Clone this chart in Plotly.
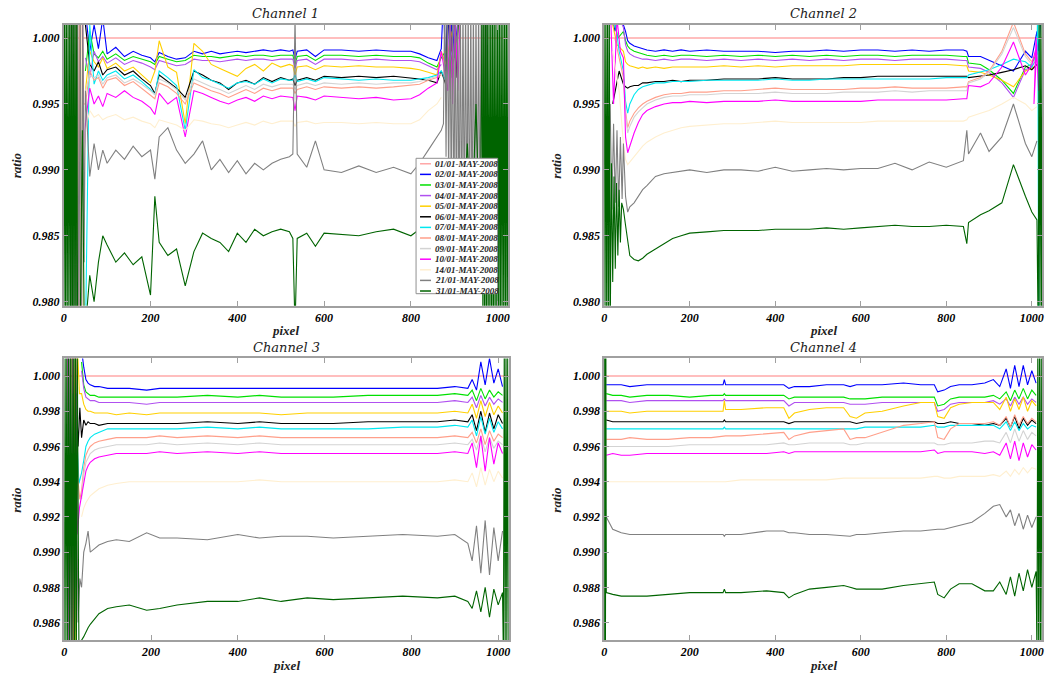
import plotly.graph_objects as go

W, H = 1063, 679

# ---------------- names / colours ----------------
series_codes = ["01", "02", "03", "04", "05", "06", "07", "08", "09", "10", "14", "21", "31"]
series_names = [c + "/01-MAY-2008" for c in series_codes]
series_colors = ["#ffa8a8", "#0000ff", "#00e000", "#b050f0", "#ffd000", "#000000",
                 "#00e8f0", "#ff9f8a", "#d3d3d3", "#ff00ff", "#ffefcf", "#808080", "#006400"]
channel_titles = ["Channel 1", "Channel 2", "Channel 3", "Channel 4"]
x_ticks = [0, 200, 400, 600, 800, 1000]

# series 01 is the reference (ratio = 1)
ref_x = [0, 1024]
ref_y = [1.0, 1.0]

# ---------------- Channel 1 ----------------
ch1_x = [50, 60, 70, 80, 90, 100, 120, 140, 160, 180,
         200, 210, 220, 240, 260, 280, 300, 320, 340, 360,
         380, 400, 420, 440, 460, 480, 500, 520, 528, 533,
         538, 560, 580, 600, 640, 680, 720, 760, 800, 820,
         840, 860, 870]
ch1_s02 = [1.0020, 0.9990, 1.0010, 0.9992, 1.0015, 0.9988, 0.9993, 0.9986, 0.9990, 0.9987,
           0.9985, 0.9982, 0.9989, 0.9986, 0.9984, 0.9985, 0.9990, 0.9988, 0.9990, 0.9988,
           0.9989, 0.9990, 0.9989, 0.9990, 0.9991, 0.9990, 0.9991, 0.9990, 0.9991, 0.9984,
           0.9990, 0.9991, 0.9986, 0.9991, 0.9991, 0.9990, 0.9991, 0.9990, 0.9990, 0.9988,
           0.9985, 0.9983, 0.9992]
ch1_s03 = [0.9975, 1.0005, 0.9988, 0.9985, 0.9990, 0.9984, 0.9988, 0.9983, 0.9986, 0.9984,
           0.9982, 0.9980, 0.9986, 0.9984, 0.9982, 0.9983, 0.9987, 0.9986, 0.9986, 0.9985,
           0.9986, 0.9987, 0.9986, 0.9987, 0.9987, 0.9986, 0.9987, 0.9987, 0.9987, 0.9980,
           0.9986, 0.9987, 0.9983, 0.9987, 0.9987, 0.9986, 0.9987, 0.9986, 0.9986, 0.9985,
           0.9981, 0.9978, 0.9985]
ch1_s04 = [0.9985, 0.9970, 0.9990, 0.9982, 0.9986, 0.9981, 0.9985, 0.9980, 0.9983, 0.9981,
           0.9978, 0.9976, 0.9983, 0.9981, 0.9979, 0.9980, 0.9984, 0.9983, 0.9983, 0.9982,
           0.9983, 0.9984, 0.9983, 0.9984, 0.9984, 0.9983, 0.9984, 0.9984, 0.9984, 0.9977,
           0.9983, 0.9984, 0.9980, 0.9984, 0.9984, 0.9983, 0.9984, 0.9983, 0.9983, 0.9982,
           0.9979, 0.9976, 0.9980]
ch1_s05 = [0.9960, 0.9990, 0.9982, 0.9978, 0.9985, 0.9977, 0.9981, 0.9975, 0.9978, 0.9972,
           0.9966, 0.9975, 0.9998, 0.9978, 0.9974, 0.9935, 0.9996, 0.9990, 0.9980, 0.9977,
           0.9974, 0.9971, 0.9977, 0.9980, 0.9975, 0.9981, 0.9978, 0.9980, 0.9979, 0.9972,
           0.9978, 0.9979, 0.9976, 0.9979, 0.9978, 0.9979, 0.9978, 0.9978, 0.9977, 0.9976,
           0.9974, 0.9972, 0.9990]
ch1_s06 = [1.0010, 0.9980, 0.9975, 0.9982, 0.9972, 0.9976, 0.9978, 0.9972, 0.9975, 0.9969,
           0.9964, 0.9958, 0.9972, 0.9967, 0.9962, 0.9955, 0.9975, 0.9972, 0.9968, 0.9966,
           0.9961, 0.9966, 0.9968, 0.9965, 0.9970, 0.9967, 0.9970, 0.9968, 0.9969, 0.9964,
           0.9968, 0.9970, 0.9968, 0.9971, 0.9970, 0.9971, 0.9970, 0.9971, 0.9970, 0.9969,
           0.9968, 0.9966, 0.9975]
ch1_s07 = [0.9770, 1.0010, 0.9965, 0.9975, 0.9968, 0.9972, 0.9975, 0.9969, 0.9972, 0.9967,
           0.9961, 0.9957, 0.9975, 0.9970, 0.9964, 0.9930, 0.9976, 0.9970, 0.9968, 0.9965,
           0.9962, 0.9966, 0.9967, 0.9965, 0.9969, 0.9966, 0.9969, 0.9968, 0.9968, 0.9972,
           0.9967, 0.9969, 0.9967, 0.9970, 0.9969, 0.9968, 0.9969, 0.9968, 0.9968, 0.9969,
           0.9970, 0.9972, 0.9975]
ch1_s08 = [0.9950, 0.9975, 0.9968, 0.9970, 0.9962, 0.9968, 0.9970, 0.9964, 0.9967, 0.9962,
           0.9957, 0.9954, 0.9966, 0.9963, 0.9958, 0.9950, 0.9966, 0.9963, 0.9960, 0.9958,
           0.9955, 0.9958, 0.9961, 0.9958, 0.9962, 0.9960, 0.9962, 0.9962, 0.9962, 0.9958,
           0.9961, 0.9963, 0.9961, 0.9963, 0.9962, 0.9963, 0.9962, 0.9963, 0.9964, 0.9965,
           0.9968, 0.9970, 0.9972]
ch1_s09 = [0.9960, 0.9972, 0.9970, 0.9972, 0.9965, 0.9970, 0.9972, 0.9966, 0.9969, 0.9965,
           0.9960, 0.9957, 0.9969, 0.9966, 0.9961, 0.9953, 0.9969, 0.9966, 0.9963, 0.9961,
           0.9958, 0.9961, 0.9964, 0.9961, 0.9965, 0.9963, 0.9965, 0.9965, 0.9965, 0.9961,
           0.9964, 0.9966, 0.9964, 0.9966, 0.9965, 0.9966, 0.9965, 0.9966, 0.9966, 0.9967,
           0.9969, 0.9971, 0.9973]
ch1_s10 = [0.9935, 0.9962, 0.9950, 0.9956, 0.9948, 0.9958, 0.9955, 0.9960, 0.9955, 0.9952,
           0.9947, 0.9942, 0.9958, 0.9950, 0.9955, 0.9925, 0.9960, 0.9958, 0.9955, 0.9952,
           0.9950, 0.9953, 0.9955, 0.9952, 0.9956, 0.9954, 0.9956, 0.9955, 0.9955, 0.9945,
           0.9956, 0.9955, 0.9953, 0.9956, 0.9955, 0.9954, 0.9955, 0.9953, 0.9954, 0.9957,
           0.9962, 0.9966, 0.9990]
ch1_s14 = [0.9930, 0.9945, 0.9940, 0.9942, 0.9938, 0.9940, 0.9942, 0.9938, 0.9940, 0.9937,
           0.9935, 0.9932, 0.9938, 0.9936, 0.9934, 0.9930, 0.9938, 0.9937, 0.9935, 0.9934,
           0.9932, 0.9934, 0.9936, 0.9934, 0.9937, 0.9935, 0.9937, 0.9937, 0.9937, 0.9933,
           0.9936, 0.9937, 0.9935, 0.9936, 0.9936, 0.9935, 0.9936, 0.9935, 0.9935, 0.9938,
           0.9945, 0.9950, 0.9955]
ch1_s21 = [0.9960, 0.9895, 0.9920, 0.9900, 0.9915, 0.9905, 0.9915, 0.9908, 0.9918, 0.9910,
           0.9915, 0.9893, 0.9925, 0.9932, 0.9915, 0.9905, 0.9912, 0.9922, 0.9900, 0.9908,
           0.9898, 0.9907, 0.9897, 0.9905, 0.9900, 0.9905, 0.9908, 0.9910, 0.9912, 1.0015,
           0.9912, 0.9902, 0.9922, 0.9900, 0.9898, 0.9903, 0.9898, 0.9902, 0.9897, 0.9905,
           0.9915, 0.9925, 0.9930]
ch1_s31 = [0.9780, 0.9820, 0.9800, 0.9830, 0.9850, 0.9843, 0.9830, 0.9837, 0.9828, 0.9834,
           0.9805, 0.9880, 0.9845, 0.9835, 0.9840, 0.9812, 0.9838, 0.9852, 0.9848, 0.9845,
           0.9838, 0.9852, 0.9845, 0.9855, 0.9850, 0.9853, 0.9855, 0.9853, 0.9848, 0.9780,
           0.9848, 0.9852, 0.9842, 0.9852, 0.9851, 0.9850, 0.9853, 0.9855, 0.9850, 0.9855,
           0.9858, 0.9862, 0.9870]
# off-scale edge excursions, channel 1
ch1_l31_x = list(range(0, 34, 2)) + [38, 43, 47]
ch1_l31_y = [0.976, 1.004, 0.976, 1.004, 0.976, 1.004, 0.976, 1.004, 0.976, 1.004,
             0.976, 1.004, 0.976, 1.004, 0.976, 1.004, 0.976, 0.978, 0.993, 0.979]
ch1_l21_x = [14, 17, 20, 23, 26, 29, 32, 35, 38, 41, 44, 47]
ch1_l21_y = [1.004, 0.976, 1.004, 0.976, 1.004, 0.976, 1.004, 0.976, 1.004, 0.976, 1.004, 0.983]
ch1_l08_x = [30, 33, 36, 39, 42, 46]
ch1_l08_y = [1.004, 0.976, 1.004, 0.976, 1.004, 0.995]
ch1_l14_x = [36, 40, 44, 48]
ch1_l14_y = [0.976, 1.004, 0.976, 0.992]
ch1_l10_x = [42, 46]
ch1_l10_y = [1.004, 0.990]
ch1_r02_x = [875, 880, 885, 890, 895, 900, 910]
ch1_r02_y = [1.003, 0.9975, 1.003, 0.998, 1.002, 0.9985, 1.002]
ch1_r03_x = [880, 895, 910]
ch1_r03_y = [0.9990, 0.9975, 1.0010]
ch1_r05_x = [880, 895]
ch1_r05_y = [0.9980, 1.0005]
ch1_r06_x = [880, 886, 892, 898, 904, 910]
ch1_r06_y = [0.9965, 1.003, 0.997, 1.003, 0.997, 1.002]
ch1_r07_x = [880, 895]
ch1_r07_y = [0.9968, 0.9990]
ch1_r10_x = [885, 890, 896, 902, 908, 914]
ch1_r10_y = [0.9960, 1.002, 0.9950, 1.002, 0.9960, 1.002]
ch1_r21_x = list(range(875, 978, 3))
ch1_r21_y = [0.9935, 1.003, 0.9910, 1.003, 0.9890, 1.003, 0.9870, 1.003, 0.9850, 1.003,
             0.9845, 1.003, 0.9840, 1.003, 0.9840, 1.003, 0.9845, 1.003, 0.9840, 1.003,
             0.9842, 1.003, 0.9840, 1.003, 0.9845, 1.003, 0.9840, 1.003, 0.9845, 1.003,
             0.9840, 1.003, 0.9850, 1.003, 0.9860]
ch1_r31_x = [890, 900, 910, 920, 930, 940, 950, 960] + list(range(964, 1025, 2))
ch1_r31_y = [0.9880, 0.9850, 0.9900, 0.9860, 0.9920, 0.9850, 0.9950, 0.9830,
             1.004, 0.976, 1.004, 0.976, 1.004, 0.976, 1.004, 0.976, 1.004, 0.976,
             1.004, 0.976, 1.004, 0.976, 1.004, 0.976, 1.004, 0.976, 1.004, 0.976,
             1.004, 0.976, 1.004, 0.976, 1.004, 0.976, 1.004, 0.976, 1.004, 0.976, 1.004]

# ---------------- Channel 2 ----------------
ch2_x = [45, 50, 55, 60, 70, 80, 90, 100, 120, 140,
         160, 180, 200, 240, 280, 320, 360, 400, 440, 480,
         520, 560, 600, 640, 680, 720, 760, 800, 840, 848,
         852, 880, 900, 930, 957, 985, 1000, 1012]
ch2_s02 = [1.0010, 1.0005, 0.9998, 0.9996, 0.9994, 0.9993, 0.9992, 0.9991, 0.9990, 0.9991,
           0.9990, 0.9991, 0.9990, 0.9991, 0.9990, 0.9990, 0.9990, 0.9989, 0.9990, 0.9990,
           0.9991, 0.9990, 0.9991, 0.9991, 0.9990, 0.9991, 0.9990, 0.9991, 0.9991, 0.9990,
           0.9986, 0.9986, 0.9983, 0.9979, 0.9975, 0.9990, 0.9985, 1.0005]
ch2_s03 = [1.0005, 0.9998, 0.9994, 0.9992, 0.9990, 0.9989, 0.9988, 0.9987, 0.9986, 0.9987,
           0.9986, 0.9987, 0.9987, 0.9986, 0.9987, 0.9986, 0.9987, 0.9986, 0.9987, 0.9986,
           0.9987, 0.9986, 0.9987, 0.9987, 0.9986, 0.9987, 0.9987, 0.9987, 0.9986, 0.9986,
           0.9981, 0.9980, 0.9976, 0.9968, 0.9958, 0.9978, 0.9980, 0.9990]
ch2_s04 = [1.0008, 0.9995, 0.9990, 0.9988, 0.9986, 0.9985, 0.9984, 0.9984, 0.9983, 0.9984,
           0.9983, 0.9984, 0.9984, 0.9983, 0.9984, 0.9983, 0.9984, 0.9983, 0.9984, 0.9983,
           0.9984, 0.9983, 0.9984, 0.9984, 0.9983, 0.9984, 0.9984, 0.9984, 0.9983, 0.9983,
           0.9978, 0.9977, 0.9974, 0.9966, 0.9955, 0.9976, 0.9978, 0.9985]
ch2_s05 = [0.9990, 0.9982, 0.9980, 0.9979, 0.9978, 0.9977, 0.9978, 0.9977, 0.9978, 0.9977,
           0.9978, 0.9978, 0.9978, 0.9978, 0.9979, 0.9978, 0.9979, 0.9978, 0.9979, 0.9979,
           0.9979, 0.9979, 0.9980, 0.9980, 0.9980, 0.9980, 0.9980, 0.9980, 0.9979, 0.9979,
           0.9975, 0.9974, 0.9972, 0.9968, 0.9963, 0.9975, 0.9977, 0.9980]
ch2_s06 = [0.9965, 0.9963, 0.9962, 0.9963, 0.9964, 0.9964, 0.9966, 0.9966, 0.9967, 0.9967,
           0.9968, 0.9967, 0.9968, 0.9968, 0.9969, 0.9969, 0.9969, 0.9970, 0.9969, 0.9969,
           0.9969, 0.9970, 0.9970, 0.9971, 0.9971, 0.9971, 0.9971, 0.9971, 0.9971, 0.9971,
           0.9970, 0.9971, 0.9972, 0.9974, 0.9976, 0.9979, 0.9976, 0.9980]
ch2_s07 = [0.9975, 0.9952, 0.9943, 0.9950, 0.9957, 0.9961, 0.9963, 0.9964, 0.9966, 0.9966,
           0.9967, 0.9967, 0.9967, 0.9968, 0.9968, 0.9968, 0.9968, 0.9969, 0.9968, 0.9968,
           0.9969, 0.9969, 0.9969, 0.9969, 0.9969, 0.9969, 0.9969, 0.9970, 0.9970, 0.9970,
           0.9972, 0.9974, 0.9976, 0.9980, 0.9984, 0.9982, 0.9978, 0.9988]
ch2_s08 = [0.9970, 0.9945, 0.9932, 0.9937, 0.9943, 0.9947, 0.9950, 0.9952, 0.9955, 0.9957,
           0.9958, 0.9958, 0.9959, 0.9959, 0.9960, 0.9960, 0.9961, 0.9962, 0.9961, 0.9961,
           0.9961, 0.9961, 0.9962, 0.9962, 0.9963, 0.9962, 0.9962, 0.9962, 0.9963, 0.9963,
           0.9967, 0.9970, 0.9975, 0.9990, 1.0012, 0.9988, 0.9982, 0.9990]
ch2_s09 = [0.9968, 0.9942, 0.9928, 0.9933, 0.9940, 0.9944, 0.9947, 0.9950, 0.9953, 0.9955,
           0.9956, 0.9956, 0.9957, 0.9957, 0.9958, 0.9958, 0.9958, 0.9959, 0.9958, 0.9958,
           0.9958, 0.9959, 0.9959, 0.9959, 0.9960, 0.9959, 0.9960, 0.9960, 0.9960, 0.9960,
           0.9966, 0.9969, 0.9974, 0.9988, 1.0008, 0.9986, 0.9980, 0.9985]
ch2_s10 = [0.9985, 0.9925, 0.9913, 0.9918, 0.9928, 0.9936, 0.9942, 0.9945, 0.9948, 0.9950,
           0.9951, 0.9951, 0.9952, 0.9951, 0.9952, 0.9952, 0.9952, 0.9953, 0.9952, 0.9952,
           0.9952, 0.9952, 0.9952, 0.9953, 0.9953, 0.9953, 0.9953, 0.9953, 0.9954, 0.9954,
           0.9964, 0.9963, 0.9966, 0.9978, 0.9997, 0.9972, 0.9980, 0.9995]
ch2_s14 = [0.9920, 0.9908, 0.9904, 0.9906, 0.9910, 0.9914, 0.9918, 0.9921, 0.9925, 0.9928,
           0.9930, 0.9932, 0.9933, 0.9934, 0.9935, 0.9935, 0.9936, 0.9937, 0.9936, 0.9936,
           0.9936, 0.9936, 0.9936, 0.9937, 0.9937, 0.9937, 0.9937, 0.9937, 0.9937, 0.9938,
           0.9940, 0.9943, 0.9945, 0.9950, 0.9955, 0.9950, 0.9945, 0.9948]
ch2_s21 = [0.9920, 0.9880, 0.9868, 0.9872, 0.9875, 0.9880, 0.9885, 0.9888, 0.9895, 0.9897,
           0.9898, 0.9899, 0.9900, 0.9898, 0.9900, 0.9900, 0.9899, 0.9902, 0.9899, 0.9900,
           0.9901, 0.9900, 0.9901, 0.9901, 0.9905, 0.9900, 0.9906, 0.9902, 0.9907, 0.9930,
           0.9912, 0.9928, 0.9914, 0.9925, 0.9950, 0.9920, 0.9910, 0.9922]
ch2_s31 = [0.9870, 0.9858, 0.9845, 0.9835, 0.9832, 0.9831, 0.9833, 0.9836, 0.9840, 0.9844,
           0.9848, 0.9850, 0.9852, 0.9853, 0.9854, 0.9854, 0.9854, 0.9855, 0.9855, 0.9855,
           0.9856, 0.9855, 0.9856, 0.9857, 0.9858, 0.9857, 0.9857, 0.9858, 0.9857, 0.9844,
           0.9860, 0.9866, 0.9869, 0.9875, 0.9904, 0.9880, 0.9868, 0.9862]
ch2_l31_x = [0, 2, 4, 6, 8, 10, 12, 14, 17, 20, 23, 26, 29, 32, 35, 38, 41]
ch2_l31_y = [1.003, 0.977, 1.003, 0.977, 1.003, 0.977, 1.003, 0.977, 0.9905, 0.9815,
             0.9895, 0.9825, 0.9890, 0.9835, 0.9885, 0.9845, 0.9875]
ch2_l21_x = [14, 18, 22, 26, 30, 34, 38, 42]
ch2_l21_y = [0.9950, 0.9870, 0.9935, 0.9875, 0.9930, 0.9872, 0.9925, 0.9878]
ch2_l02_x = [15, 25, 35]
ch2_l02_y = [1.0025, 1.0005, 1.0020]
ch2_l03_x = [20, 32]
ch2_l03_y = [1.0020, 1.0000]
ch2_l04_x = [18, 30]
ch2_l04_y = [1.0015, 1.0020]
ch2_l05_x = [20, 30]
ch2_l05_y = [1.0010, 0.9995]
ch2_l06_x = [20, 35]
ch2_l06_y = [0.9950, 0.9975]
ch2_l07_x = [25, 35]
ch2_l07_y = [1.0015, 0.9990]
ch2_l08_x = [25, 35]
ch2_l08_y = [1.0000, 0.9985]
ch2_l10_x = [15, 22, 30, 38]
ch2_l10_y = [1.0020, 0.9950, 1.0015, 0.9990]
ch2_l14_x = [20, 35]
ch2_l14_y = [0.9990, 0.9960]
ch2_r02_x = [1016, 1020]
ch2_r02_y = [0.9990, 1.0010]
ch2_r07_x = [1014, 1016, 1018]
ch2_r07_y = [1.003, 0.977, 1.003]
ch2_r10_x = [1005, 1010, 1016]
ch2_r10_y = [0.9950, 1.0000, 0.9960]
ch2_r31_x = [1015, 1017, 1019, 1021, 1023, 1025]
ch2_r31_y = [0.977, 1.003, 0.977, 1.003, 0.977, 1.003]

# ---------------- Channel 3 ----------------
ch3_x = [40, 45, 50, 55, 60, 70, 80, 100, 120, 150,
         190, 220, 260, 330, 400, 450, 500, 560, 620, 700,
         780, 860, 900, 930, 940, 950, 960, 970, 980, 990,
         1000, 1010]
ch3_s02 = [1.0015, 1.0005, 0.9998, 0.9996, 0.9995, 0.9994, 0.9994, 0.9993, 0.9993, 0.9993,
           0.9992, 0.9993, 0.9993, 0.9993, 0.9993, 0.9993, 0.9993, 0.9993, 0.9993, 0.9993,
           0.9993, 0.9993, 0.9994, 0.9993, 0.9998, 0.9992, 1.0008, 0.9995, 1.0010, 0.9996,
           1.0004, 0.9994]
ch3_s03 = [1.0008, 0.9995, 0.9991, 0.9990, 0.9989, 0.9989, 0.9988, 0.9988, 0.9988, 0.9988,
           0.9988, 0.9988, 0.9988, 0.9989, 0.9988, 0.9989, 0.9988, 0.9988, 0.9988, 0.9989,
           0.9989, 0.9989, 0.9990, 0.9989, 0.9992, 0.9986, 0.9993, 0.9987, 0.9992, 0.9988,
           0.9991, 0.9989]
ch3_s04 = [1.0003, 0.9993, 0.9988, 0.9987, 0.9986, 0.9986, 0.9985, 0.9985, 0.9985, 0.9985,
           0.9984, 0.9985, 0.9985, 0.9985, 0.9985, 0.9985, 0.9985, 0.9985, 0.9985, 0.9985,
           0.9985, 0.9985, 0.9986, 0.9985, 0.9988, 0.9982, 0.9989, 0.9983, 0.9988, 0.9984,
           0.9987, 0.9985]
ch3_s05 = [0.9990, 0.9984, 0.9981, 0.9980, 0.9980, 0.9979, 0.9979, 0.9979, 0.9978, 0.9979,
           0.9978, 0.9979, 0.9979, 0.9979, 0.9979, 0.9979, 0.9978, 0.9979, 0.9979, 0.9979,
           0.9979, 0.9979, 0.9980, 0.9979, 0.9984, 0.9976, 0.9986, 0.9977, 0.9985, 0.9978,
           0.9983, 0.9979]
ch3_s06 = [0.9965, 0.9975, 0.9972, 0.9974, 0.9973, 0.9973, 0.9972, 0.9973, 0.9973, 0.9973,
           0.9973, 0.9973, 0.9973, 0.9974, 0.9973, 0.9974, 0.9973, 0.9973, 0.9973, 0.9974,
           0.9974, 0.9974, 0.9975, 0.9974, 0.9978, 0.9969, 0.9980, 0.9968, 0.9979, 0.9970,
           0.9978, 0.9973]
ch3_s07 = [0.9945, 0.9952, 0.9960, 0.9963, 0.9965, 0.9967, 0.9968, 0.9970, 0.9970, 0.9970,
           0.9970, 0.9970, 0.9970, 0.9971, 0.9970, 0.9971, 0.9970, 0.9970, 0.9970, 0.9970,
           0.9971, 0.9971, 0.9972, 0.9971, 0.9975, 0.9966, 0.9977, 0.9967, 0.9976, 0.9968,
           0.9974, 0.9970]
ch3_s08 = [0.9935, 0.9948, 0.9955, 0.9958, 0.9960, 0.9962, 0.9963, 0.9964, 0.9965, 0.9965,
           0.9965, 0.9966, 0.9965, 0.9966, 0.9965, 0.9966, 0.9965, 0.9965, 0.9965, 0.9965,
           0.9965, 0.9965, 0.9966, 0.9965, 0.9968, 0.9962, 0.9970, 0.9961, 0.9969, 0.9963,
           0.9967, 0.9965]
ch3_s09 = [0.9930, 0.9944, 0.9951, 0.9954, 0.9956, 0.9958, 0.9959, 0.9960, 0.9961, 0.9961,
           0.9961, 0.9962, 0.9961, 0.9962, 0.9961, 0.9962, 0.9961, 0.9961, 0.9961, 0.9961,
           0.9961, 0.9961, 0.9962, 0.9961, 0.9964, 0.9958, 0.9966, 0.9957, 0.9965, 0.9959,
           0.9963, 0.9961]
ch3_s10 = [0.9932, 0.9940, 0.9946, 0.9949, 0.9951, 0.9953, 0.9954, 0.9955, 0.9956, 0.9956,
           0.9956, 0.9957, 0.9956, 0.9957, 0.9956, 0.9957, 0.9956, 0.9956, 0.9956, 0.9956,
           0.9956, 0.9956, 0.9957, 0.9956, 0.9962, 0.9948, 0.9966, 0.9946, 0.9965, 0.9950,
           0.9962, 0.9956]
ch3_s14 = [0.9920, 0.9925, 0.9928, 0.9930, 0.9932, 0.9934, 0.9936, 0.9938, 0.9939, 0.9940,
           0.9940, 0.9940, 0.9940, 0.9940, 0.9940, 0.9941, 0.9940, 0.9940, 0.9940, 0.9940,
           0.9940, 0.9940, 0.9941, 0.9940, 0.9945, 0.9937, 0.9948, 0.9938, 0.9947, 0.9940,
           0.9946, 0.9942]
ch3_s21 = [0.9880, 0.9900, 0.9905, 0.9912, 0.9900, 0.9902, 0.9904, 0.9906, 0.9907, 0.9906,
           0.9911, 0.9908, 0.9908, 0.9907, 0.9910, 0.9908, 0.9909, 0.9909, 0.9908, 0.9909,
           0.9910, 0.9909, 0.9910, 0.9905, 0.9895, 0.9915, 0.9888, 0.9918, 0.9887, 0.9914,
           0.9895, 0.9912]
ch3_s31 = [0.9850, 0.9852, 0.9855, 0.9857, 0.9859, 0.9862, 0.9865, 0.9868, 0.9869, 0.9870,
           0.9867, 0.9868, 0.9870, 0.9872, 0.9872, 0.9874, 0.9872, 0.9874, 0.9873, 0.9874,
           0.9875, 0.9874, 0.9875, 0.9872, 0.9868, 0.9878, 0.9866, 0.9880, 0.9863, 0.9879,
           0.9870, 0.9877]
ch3_l31_x = [0, 2, 4, 6, 8, 10, 12, 14, 16, 18, 20, 22, 24, 26, 28, 30, 34, 37]
ch3_l31_y = [0.984, 1.002, 0.984, 1.002, 0.984, 1.002, 0.984, 1.002, 0.984, 1.002,
             0.984, 1.002, 0.984, 1.002, 0.984, 1.002, 0.9840, 0.9845]
ch3_l10_x = [8, 11, 14, 17, 20, 23, 26, 30, 35]
ch3_l10_y = [1.002, 0.984, 1.002, 0.984, 1.002, 0.984, 1.002, 0.9910, 0.9925]
ch3_l05_x = [18, 21, 24, 27, 30, 35]
ch3_l05_y = [1.002, 0.984, 1.002, 0.984, 1.002, 0.9990]
ch3_l21_x = [20, 24, 28, 32, 36]
ch3_l21_y = [0.9990, 0.9855, 0.9940, 0.9860, 0.9885]
ch3_l06_x = [20, 24, 28, 32, 36]
ch3_l06_y = [0.9990, 0.9880, 0.9990, 0.9960, 0.9982]
ch3_l07_x = [25, 30, 34]
ch3_l07_y = [1.0010, 0.9960, 0.9939]
ch3_l08_x = [25, 32, 36]
ch3_l08_y = [1.0005, 0.9940, 0.9930]
ch3_l02_x = [25, 32, 36]
ch3_l02_y = [1.0020, 1.0015, 1.0020]
ch3_r31_x = [1012, 1014, 1016, 1018, 1020, 1022, 1024]
ch3_r31_y = [0.984, 1.002, 0.984, 1.002, 0.984, 1.002, 0.984]

# ---------------- Channel 4 ----------------
ch4_x = [5, 20, 40, 60, 100, 150, 200, 250, 278, 281,
         284, 320, 380, 420, 432, 445, 480, 520, 560, 575,
         590, 610, 650, 700, 740, 772, 780, 795, 810, 830,
         860, 890, 910, 925, 940, 950, 960, 970, 980, 990,
         1000, 1010]
ch4_s02 = [0.9995, 0.9995, 0.9995, 0.9994, 0.9995, 0.9995, 0.9995, 0.9995, 0.9995, 0.9998,
           0.9995, 0.9995, 0.9995, 0.9995, 0.9993, 0.9994, 0.9994, 0.9995, 0.9995, 0.9994,
           0.9995, 0.9995, 0.9995, 0.9996, 0.9995, 0.9995, 0.9991, 0.9992, 0.9994, 0.9995,
           0.9995, 0.9996, 0.9998, 0.9994, 1.0004, 0.9993, 1.0006, 0.9994, 1.0006, 0.9995,
           1.0003, 0.9996]
ch4_s03 = [0.9990, 0.9989, 0.9989, 0.9988, 0.9989, 0.9989, 0.9988, 0.9989, 0.9989, 0.9990,
           0.9989, 0.9989, 0.9989, 0.9989, 0.9987, 0.9988, 0.9988, 0.9988, 0.9988, 0.9987,
           0.9987, 0.9987, 0.9988, 0.9988, 0.9988, 0.9988, 0.9983, 0.9984, 0.9987, 0.9988,
           0.9988, 0.9988, 0.9989, 0.9987, 0.9991, 0.9986, 0.9992, 0.9987, 0.9993, 0.9987,
           0.9992, 0.9989]
ch4_s04 = [0.9986, 0.9986, 0.9986, 0.9985, 0.9986, 0.9986, 0.9986, 0.9986, 0.9986, 0.9987,
           0.9986, 0.9986, 0.9986, 0.9986, 0.9983, 0.9985, 0.9985, 0.9985, 0.9985, 0.9984,
           0.9984, 0.9984, 0.9985, 0.9985, 0.9985, 0.9985, 0.9980, 0.9981, 0.9984, 0.9985,
           0.9985, 0.9985, 0.9986, 0.9984, 0.9987, 0.9983, 0.9988, 0.9984, 0.9988, 0.9984,
           0.9987, 0.9985]
ch4_s05 = [0.9980, 0.9980, 0.9980, 0.9979, 0.9980, 0.9980, 0.9980, 0.9980, 0.9980, 0.9986,
           0.9981, 0.9981, 0.9982, 0.9982, 0.9976, 0.9979, 0.9981, 0.9982, 0.9982, 0.9977,
           0.9976, 0.9979, 0.9980, 0.9983, 0.9985, 0.9985, 0.9977, 0.9976, 0.9982, 0.9984,
           0.9985, 0.9985, 0.9985, 0.9981, 0.9988, 0.9980, 0.9987, 0.9981, 0.9988, 0.9980,
           0.9986, 0.9983]
ch4_s06 = [0.9975, 0.9974, 0.9974, 0.9974, 0.9974, 0.9974, 0.9974, 0.9974, 0.9974, 0.9975,
           0.9974, 0.9974, 0.9974, 0.9974, 0.9973, 0.9974, 0.9974, 0.9974, 0.9974, 0.9974,
           0.9973, 0.9974, 0.9974, 0.9974, 0.9974, 0.9974, 0.9973, 0.9973, 0.9974, 0.9973,
           0.9973, 0.9972, 0.9973, 0.9972, 0.9976, 0.9971, 0.9977, 0.9970, 0.9976, 0.9972,
           0.9975, 0.9973]
ch4_s07 = [0.9970, 0.9970, 0.9970, 0.9970, 0.9970, 0.9970, 0.9970, 0.9970, 0.9970, 0.9971,
           0.9970, 0.9970, 0.9970, 0.9970, 0.9970, 0.9970, 0.9970, 0.9970, 0.9970, 0.9970,
           0.9970, 0.9971, 0.9971, 0.9971, 0.9971, 0.9972, 0.9971, 0.9971, 0.9972, 0.9972,
           0.9972, 0.9972, 0.9972, 0.9970, 0.9974, 0.9969, 0.9974, 0.9969, 0.9973, 0.9970,
           0.9972, 0.9971]
ch4_s08 = [0.9964, 0.9964, 0.9964, 0.9965, 0.9964, 0.9964, 0.9965, 0.9965, 0.9966, 0.9966,
           0.9966, 0.9966, 0.9967, 0.9968, 0.9964, 0.9966, 0.9968, 0.9969, 0.9970, 0.9964,
           0.9965, 0.9965, 0.9968, 0.9972, 0.9973, 0.9974, 0.9965, 0.9964, 0.9970, 0.9973,
           0.9973, 0.9973, 0.9974, 0.9972, 0.9977, 0.9971, 0.9978, 0.9972, 0.9977, 0.9973,
           0.9976, 0.9974]
ch4_s09 = [0.9960, 0.9960, 0.9960, 0.9960, 0.9960, 0.9960, 0.9961, 0.9961, 0.9961, 0.9961,
           0.9961, 0.9961, 0.9961, 0.9962, 0.9961, 0.9961, 0.9962, 0.9962, 0.9962, 0.9961,
           0.9961, 0.9962, 0.9962, 0.9962, 0.9962, 0.9962, 0.9961, 0.9961, 0.9962, 0.9962,
           0.9962, 0.9963, 0.9963, 0.9962, 0.9968, 0.9962, 0.9970, 0.9963, 0.9969, 0.9964,
           0.9968, 0.9966]
ch4_s10 = [0.9955, 0.9956, 0.9955, 0.9955, 0.9956, 0.9956, 0.9956, 0.9956, 0.9956, 0.9956,
           0.9956, 0.9956, 0.9956, 0.9957, 0.9956, 0.9957, 0.9957, 0.9957, 0.9957, 0.9957,
           0.9957, 0.9957, 0.9957, 0.9957, 0.9957, 0.9958, 0.9956, 0.9957, 0.9957, 0.9957,
           0.9957, 0.9956, 0.9957, 0.9955, 0.9962, 0.9953, 0.9963, 0.9952, 0.9962, 0.9954,
           0.9961, 0.9958]
ch4_s14 = [0.9940, 0.9940, 0.9940, 0.9940, 0.9940, 0.9940, 0.9940, 0.9940, 0.9940, 0.9940,
           0.9940, 0.9941, 0.9941, 0.9941, 0.9941, 0.9941, 0.9941, 0.9941, 0.9942, 0.9942,
           0.9942, 0.9942, 0.9942, 0.9942, 0.9942, 0.9943, 0.9943, 0.9942, 0.9942, 0.9943,
           0.9943, 0.9943, 0.9944, 0.9943, 0.9946, 0.9943, 0.9947, 0.9944, 0.9948, 0.9945,
           0.9948, 0.9947]
ch4_s21 = [0.9920, 0.9913, 0.9911, 0.9910, 0.9910, 0.9910, 0.9910, 0.9910, 0.9910, 0.9909,
           0.9910, 0.9910, 0.9912, 0.9912, 0.9911, 0.9911, 0.9910, 0.9910, 0.9909, 0.9909,
           0.9910, 0.9910, 0.9911, 0.9912, 0.9912, 0.9913, 0.9913, 0.9913, 0.9914, 0.9915,
           0.9917, 0.9922, 0.9926, 0.9927, 0.9920, 0.9924, 0.9915, 0.9922, 0.9913, 0.9921,
           0.9914, 0.9920]
ch4_s31 = [0.9877, 0.9876, 0.9875, 0.9875, 0.9875, 0.9876, 0.9877, 0.9877, 0.9877, 0.9879,
           0.9877, 0.9877, 0.9878, 0.9877, 0.9874, 0.9876, 0.9879, 0.9880, 0.9881, 0.9880,
           0.9879, 0.9879, 0.9879, 0.9881, 0.9882, 0.9883, 0.9876, 0.9874, 0.9879, 0.9882,
           0.9882, 0.9878, 0.9878, 0.9883, 0.9876, 0.9886, 0.9875, 0.9888, 0.9878, 0.9890,
           0.9880, 0.9889]
ch4_l31_x = [0, 1, 2, 3, 4]
ch4_l31_y = [1.002, 0.984, 1.002, 0.984, 1.002]
ch4_r31_x = [1012, 1014, 1016, 1018, 1020, 1022, 1024]
ch4_r31_y = [0.984, 1.002, 0.984, 1.002, 0.984, 1.002, 0.984]

# ---------------- assemble ----------------
grids = [ch1_x, ch2_x, ch3_x, ch4_x]
chan_series = [
    [ch1_s02, ch1_s03, ch1_s04, ch1_s05, ch1_s06, ch1_s07, ch1_s08, ch1_s09, ch1_s10, ch1_s14, ch1_s21, ch1_s31],
    [ch2_s02, ch2_s03, ch2_s04, ch2_s05, ch2_s06, ch2_s07, ch2_s08, ch2_s09, ch2_s10, ch2_s14, ch2_s21, ch2_s31],
    [ch3_s02, ch3_s03, ch3_s04, ch3_s05, ch3_s06, ch3_s07, ch3_s08, ch3_s09, ch3_s10, ch3_s14, ch3_s21, ch3_s31],
    [ch4_s02, ch4_s03, ch4_s04, ch4_s05, ch4_s06, ch4_s07, ch4_s08, ch4_s09, ch4_s10, ch4_s14, ch4_s21, ch4_s31],
]
left_parts = {
    (0, "31"): (ch1_l31_x, ch1_l31_y), (0, "21"): (ch1_l21_x, ch1_l21_y),
    (0, "08"): (ch1_l08_x, ch1_l08_y), (0, "14"): (ch1_l14_x, ch1_l14_y),
    (0, "10"): (ch1_l10_x, ch1_l10_y),
    (1, "31"): (ch2_l31_x, ch2_l31_y), (1, "21"): (ch2_l21_x, ch2_l21_y),
    (1, "02"): (ch2_l02_x, ch2_l02_y), (1, "03"): (ch2_l03_x, ch2_l03_y),
    (1, "04"): (ch2_l04_x, ch2_l04_y), (1, "05"): (ch2_l05_x, ch2_l05_y),
    (1, "06"): (ch2_l06_x, ch2_l06_y), (1, "07"): (ch2_l07_x, ch2_l07_y),
    (1, "08"): (ch2_l08_x, ch2_l08_y), (1, "10"): (ch2_l10_x, ch2_l10_y),
    (1, "14"): (ch2_l14_x, ch2_l14_y),
    (2, "31"): (ch3_l31_x, ch3_l31_y), (2, "10"): (ch3_l10_x, ch3_l10_y),
    (2, "05"): (ch3_l05_x, ch3_l05_y), (2, "21"): (ch3_l21_x, ch3_l21_y),
    (2, "06"): (ch3_l06_x, ch3_l06_y), (2, "07"): (ch3_l07_x, ch3_l07_y),
    (2, "08"): (ch3_l08_x, ch3_l08_y), (2, "02"): (ch3_l02_x, ch3_l02_y),
    (3, "31"): (ch4_l31_x, ch4_l31_y),
}
right_parts = {
    (0, "02"): (ch1_r02_x, ch1_r02_y), (0, "03"): (ch1_r03_x, ch1_r03_y),
    (0, "05"): (ch1_r05_x, ch1_r05_y), (0, "06"): (ch1_r06_x, ch1_r06_y),
    (0, "07"): (ch1_r07_x, ch1_r07_y), (0, "10"): (ch1_r10_x, ch1_r10_y),
    (0, "21"): (ch1_r21_x, ch1_r21_y), (0, "31"): (ch1_r31_x, ch1_r31_y),
    (1, "02"): (ch2_r02_x, ch2_r02_y), (1, "07"): (ch2_r07_x, ch2_r07_y),
    (1, "10"): (ch2_r10_x, ch2_r10_y), (1, "31"): (ch2_r31_x, ch2_r31_y),
    (2, "31"): (ch3_r31_x, ch3_r31_y),
    (3, "31"): (ch4_r31_x, ch4_r31_y),
}

fig = go.Figure()
for c in range(4):
    sfx = "" if c == 0 else str(c + 1)
    fig.add_trace(go.Scatter(x=ref_x, y=ref_y, mode="lines", xaxis="x" + sfx, yaxis="y" + sfx,
                             line=dict(color=series_colors[0], width=1.6), showlegend=False,
                             hoverinfo="skip"))
    for k, vals in enumerate(chan_series[c]):
        code = series_codes[k + 1]
        assert len(vals) == len(grids[c]), (c, code, len(vals), len(grids[c]))
        xs, ys = [], []
        if (c, code) in left_parts:
            lx, ly = left_parts[(c, code)]
            assert len(lx) == len(ly), (c, code, "L")
            xs += lx
            ys += ly
        xs += grids[c]
        ys += vals
        if (c, code) in right_parts:
            rx, ry = right_parts[(c, code)]
            assert len(rx) == len(ry), (c, code, "R")
            xs += rx
            ys += ry
        fig.add_trace(go.Scatter(x=xs, y=ys, mode="lines", xaxis="x" + sfx, yaxis="y" + sfx,
                                 line=dict(color=series_colors[k + 1], width=1.1), showlegend=False,
                                 name=series_names[k + 1], hoverinfo="skip"))

# ---------------- layout ----------------
def px_x(p):
    return p / W

def px_y(p):
    return 1 - p / H

tick_font = dict(family="Liberation Serif", size=12, color="black", weight="bold", style="italic")
frame = "#a0a0a0"

def xax(d0, d1, anchor):
    return dict(domain=[px_x(d0), px_x(d1)], range=[0, 1024], tickvals=x_ticks, ticks="inside",
                ticklen=5, tickcolor=frame, tickwidth=1, showline=True, linecolor=frame,
                linewidth=1.5, mirror="ticks", showgrid=False, zeroline=False,
                tickfont=tick_font, anchor=anchor)

def yax(d0, d1, rng, t0, dt, anchor):
    return dict(domain=[px_y(d1), px_y(d0)], range=rng, tick0=t0, dtick=dt, tickformat=".3f",
                ticks="inside", ticklen=5, tickcolor=frame, tickwidth=1, showline=True,
                linecolor=frame, linewidth=1.5, mirror="ticks", showgrid=False, zeroline=False,
                tickfont=tick_font, anchor=anchor)

panels_x = [(61, 507.5), (604, 1044), (61.5, 508), (604, 1044)]
panels_y = [(25, 307), (25, 307), (360, 643), (360, 643)]
yranges = [[0.9797, 1.001], [0.9797, 1.001], [0.985, 1.001], [0.985, 1.001]]
ytick0 = [0.980, 0.980, 0.986, 0.986]
ydtick = [0.005, 0.005, 0.002, 0.002]

layout = dict(width=W, height=H, margin=dict(l=0, r=0, t=0, b=0),
              paper_bgcolor="white", plot_bgcolor="white", showlegend=False)
annotations = []
shapes = []
title_font = dict(family="DejaVu Serif", size=13, color="#222", style="italic")
label_font = dict(family="Liberation Serif", size=13, color="#222", weight="bold", style="italic")
for c in range(4):
    sfx = "" if c == 0 else str(c + 1)
    layout["xaxis" + sfx] = xax(*panels_x[c], "y" + sfx)
    layout["yaxis" + sfx] = yax(*panels_y[c], yranges[c], ytick0[c], ydtick[c], "x" + sfx)
    cx = (panels_x[c][0] + panels_x[c][1]) / 2
    annotations.append(dict(text=channel_titles[c], x=px_x(cx), y=px_y(panels_y[c][0] - 11),
                            xref="paper", yref="paper", showarrow=False, font=title_font,
                            xanchor="center", yanchor="middle"))
    annotations.append(dict(text="pixel", x=px_x(cx), y=px_y(panels_y[c][1] + 25),
                            xref="paper", yref="paper", showarrow=False, font=label_font,
                            xanchor="center", yanchor="middle"))
    annotations.append(dict(text="ratio", x=px_x(panels_x[c][0] - 48),
                            y=px_y((panels_y[c][0] + panels_y[c][1]) / 2),
                            xref="paper", yref="paper", showarrow=False, font=label_font,
                            textangle=-90, xanchor="center", yanchor="middle"))

# legend box (channel 1 panel)
lx0, lx1, ly0, ly1 = 415, 497, 159, 295
shapes.append(dict(type="rect", xref="paper", yref="paper", x0=px_x(lx0), x1=px_x(lx1),
                   y0=px_y(ly1), y1=px_y(ly0), fillcolor="white",
                   line=dict(color="#909090", width=1), layer="above"))
leg_font = dict(family="Liberation Serif", size=9, color="#222", weight="bold", style="italic")
for i, name in enumerate(series_names):
    yy = 164.5 + i * 10.65
    shapes.append(dict(type="line", xref="paper", yref="paper", x0=px_x(419), x1=px_x(430),
                       y0=px_y(yy), y1=px_y(yy), line=dict(color=series_colors[i], width=1.5),
                       layer="above"))
    annotations.append(dict(text=name, x=px_x(432), y=px_y(yy), xref="paper", yref="paper",
                            showarrow=False, font=leg_font, xanchor="left", yanchor="middle"))

layout["annotations"] = annotations
layout["shapes"] = shapes
fig.update_layout(**layout)
fig.write_html("out.html")
